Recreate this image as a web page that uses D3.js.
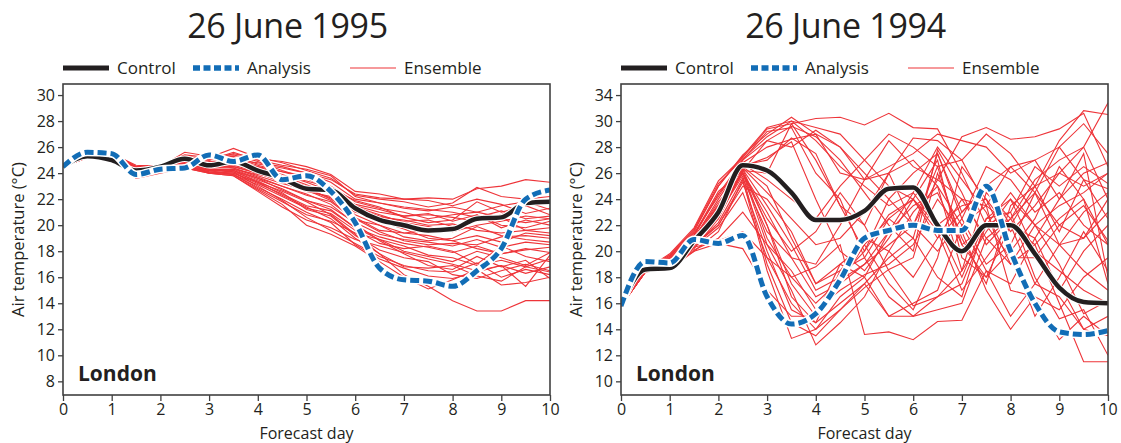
<!DOCTYPE html>
<html>
<head>
<meta charset="utf-8">
<script src="https://cdn.jsdelivr.net/npm/d3@7"></script>
<style>
  body { margin: 0; background: #fff; }
  text { font-family: "Open Sans", sans-serif; fill: #231f20; }
</style>
</head>
<body>
<svg id="chart" width="1121" height="443"></svg>
<script>
// forecast days (half-day steps)
const days = [0, 0.5, 1, 1.5, 2, 2.5, 3, 3.5, 4, 4.5, 5, 5.5, 6, 6.5, 7, 7.5, 8, 8.5, 9, 9.5, 10];

const titles = ['26 June 1995', '26 June 1994'];
const legendNames = ['Control', 'Analysis', 'Ensemble'];

// y ticks (the 1994 panel prints "34" on its top tick, as in the original)
const ticks1995 = [8, 10, 12, 14, 16, 18, 20, 22, 24, 26, 28, 30];
const tickLabels1995 = ['8', '10', '12', '14', '16', '18', '20', '22', '24', '26', '28', '30'];
const ticks1994 = [10, 12, 14, 16, 18, 20, 22, 24, 26, 28, 30, 32];
const tickLabels1994 = ['10', '12', '14', '16', '18', '20', '22', '24', '26', '28', '30', '34'];
const xTicks = [0, 1, 2, 3, 4, 5, 6, 7, 8, 9, 10];

// 26 June 1995
const control1995 = [24.5, 25.3, 25.0, 24.2, 24.5, 25.1, 24.6, 24.9, 24.2, 23.6, 22.8, 22.7, 21.3, 20.4, 20.0, 19.6, 19.7, 20.5, 20.6, 21.7, 21.8];
const analysis1995 = [24.5, 25.6, 25.5, 23.9, 24.3, 24.4, 25.4, 24.9, 25.4, 23.5, 23.8, 22.6, 20.2, 16.7, 15.8, 15.7, 15.3, 16.5, 18.2, 22.0, 22.7];
const ensemble1995 = [
  [24.5, 25.3, 25.6, 24.5, 24.5, 25.2, 25.0, 25.5, 25.1, 24.9, 24.5, 23.9, 22.6, 22.4, 22.0, 22.1, 22.0, 22.8, 23.0, 23.5, 23.3],
  [24.5, 25.3, 25.4, 24.4, 24.6, 25.4, 25.2, 25.9, 25.2, 24.8, 24.2, 23.6, 22.3, 22.0, 21.8, 21.4, 21.7, 22.9, 22.2, 22.0, 22.2],
  [24.5, 25.2, 25.3, 24.3, 24.4, 25.0, 24.8, 25.0, 24.8, 24.5, 24.0, 23.3, 22.0, 21.7, 21.3, 21.1, 21.4, 21.0, 21.5, 21.8, 21.2],
  [24.5, 25.3, 25.5, 24.6, 24.5, 25.6, 25.3, 25.4, 24.9, 24.2, 23.6, 22.8, 21.9, 21.4, 20.6, 20.2, 20.4, 21.8, 21.0, 21.5, 20.8],
  [24.5, 25.2, 25.2, 24.2, 24.3, 24.8, 24.6, 24.7, 24.5, 23.8, 23.4, 22.9, 21.4, 20.8, 20.2, 19.9, 19.5, 20.0, 20.3, 20.7, 20.5],
  [24.5, 25.2, 25.1, 24.3, 24.4, 24.6, 24.2, 24.3, 23.9, 23.6, 23.0, 22.5, 21.6, 21.2, 20.7, 20.9, 20.3, 20.8, 19.8, 20.4, 20.0],
  [24.5, 25.3, 25.4, 24.4, 24.5, 24.9, 24.4, 24.5, 24.0, 23.3, 22.6, 22.2, 21.0, 20.6, 20.4, 20.0, 20.1, 19.6, 19.4, 19.6, 19.8],
  [24.5, 25.2, 25.3, 24.5, 24.6, 25.1, 24.7, 24.4, 23.7, 23.0, 22.3, 21.8, 20.4, 20.0, 19.4, 19.2, 18.8, 19.2, 18.7, 19.4, 19.2],
  [24.5, 25.3, 25.5, 24.3, 24.4, 24.7, 24.3, 24.2, 23.5, 22.8, 21.9, 21.4, 20.2, 19.3, 18.9, 18.7, 18.4, 18.9, 18.3, 18.7, 18.5],
  [24.5, 25.2, 25.2, 24.2, 24.3, 24.5, 24.1, 24.0, 23.2, 22.4, 21.5, 21.1, 19.8, 19.1, 18.6, 18.3, 17.9, 18.4, 17.8, 18.2, 17.9],
  [24.5, 25.3, 25.4, 24.4, 24.5, 24.8, 24.2, 23.9, 22.8, 21.8, 20.8, 20.3, 19.4, 18.9, 18.4, 17.7, 17.5, 16.9, 17.3, 16.8, 17.4],
  [24.5, 25.2, 25.3, 24.3, 24.4, 24.6, 24.0, 23.8, 22.6, 21.4, 20.4, 19.8, 18.9, 18.4, 17.9, 17.4, 17.0, 16.5, 16.9, 16.3, 16.8],
  [24.5, 25.3, 25.5, 24.5, 24.5, 24.9, 24.3, 24.1, 23.0, 21.9, 20.6, 19.6, 18.6, 17.6, 16.9, 16.5, 16.4, 17.1, 16.0, 16.6, 16.2],
  [24.5, 25.2, 25.2, 24.2, 24.3, 24.4, 24.0, 23.9, 22.9, 22.0, 21.0, 20.2, 18.5, 17.4, 16.7, 16.1, 15.9, 16.4, 16.9, 15.3, 17.7],
  [24.5, 25.3, 25.4, 24.4, 24.4, 24.6, 24.1, 24.0, 23.3, 22.6, 21.8, 20.8, 19.3, 17.8, 16.2, 15.3, 14.2, 13.4, 13.4, 14.2, 14.2],
  [24.5, 25.2, 25.3, 24.3, 24.4, 24.7, 24.3, 24.2, 23.6, 23.0, 22.4, 21.6, 20.1, 18.8, 17.8, 16.9, 16.6, 17.6, 16.8, 17.3, 15.9],
  [24.5, 25.3, 25.4, 24.4, 24.5, 25.0, 24.6, 24.8, 24.3, 23.8, 23.1, 22.4, 21.2, 20.3, 19.7, 19.0, 18.8, 18.2, 17.8, 18.1, 18.3],
  [24.5, 25.2, 25.3, 24.5, 24.6, 25.2, 24.8, 25.2, 24.6, 24.1, 23.8, 23.0, 21.8, 21.3, 21.0, 20.5, 20.8, 21.0, 20.6, 19.6, 19.4],
  [24.5, 25.3, 25.5, 24.3, 24.4, 25.3, 25.0, 25.6, 25.0, 24.6, 24.3, 23.8, 22.2, 21.7, 21.4, 21.2, 21.0, 20.6, 21.1, 20.5, 20.7],
  [24.5, 25.2, 25.2, 24.4, 24.5, 24.7, 24.5, 24.6, 24.1, 23.5, 22.9, 22.0, 20.8, 20.0, 19.1, 18.8, 19.0, 19.9, 19.2, 18.9, 18.7],
  [24.5, 25.3, 25.4, 24.3, 24.4, 24.5, 24.2, 24.1, 23.4, 22.5, 21.2, 20.7, 19.2, 18.1, 17.5, 17.2, 16.2, 15.9, 16.5, 17.0, 16.5],
  [24.5, 25.2, 25.3, 23.6, 24.0, 24.4, 24.0, 23.8, 22.7, 21.6, 20.0, 19.3, 18.4, 17.2, 16.0, 15.1, 15.8, 16.6, 15.4, 15.6, 16.0],
  [24.5, 25.3, 25.4, 24.4, 24.5, 24.9, 24.4, 24.4, 23.8, 23.2, 22.7, 22.1, 20.6, 19.6, 19.4, 19.6, 19.7, 20.8, 20.0, 19.8, 20.3],
  [24.5, 25.2, 25.3, 24.4, 24.5, 25.1, 24.8, 25.1, 24.4, 23.9, 23.3, 22.6, 21.5, 21.0, 20.7, 20.8, 20.6, 20.3, 20.8, 21.8, 21.6],
  [24.5, 25.3, 25.4, 24.5, 24.6, 25.3, 25.1, 25.3, 24.7, 24.4, 24.0, 23.5, 22.4, 22.1, 22.0, 21.9, 21.5, 22.0, 21.6, 20.9, 21.3],
  [24.5, 25.2, 25.2, 24.3, 24.3, 24.4, 24.1, 23.9, 23.1, 22.2, 21.3, 20.9, 19.6, 18.6, 18.2, 18.4, 18.0, 17.0, 18.4, 17.6, 17.2],
  [24.5, 25.3, 25.4, 24.4, 24.4, 24.6, 24.2, 24.3, 23.6, 22.7, 21.9, 21.2, 19.8, 18.9, 18.0, 17.6, 17.2, 18.0, 17.5, 16.9, 17.9],
  [24.5, 25.2, 25.3, 24.3, 24.5, 24.8, 24.5, 24.5, 24.0, 23.4, 22.7, 21.9, 20.5, 19.5, 18.8, 18.5, 18.6, 18.5, 19.1, 19.2, 19.0],
  [24.5, 25.3, 25.5, 24.5, 24.6, 25.2, 24.9, 25.0, 24.5, 24.1, 23.6, 22.7, 21.3, 20.7, 20.3, 20.4, 19.9, 20.4, 20.5, 20.2, 20.5],
  [24.5, 25.2, 25.3, 24.4, 24.5, 24.8, 24.3, 24.2, 23.3, 22.3, 21.4, 20.5, 19.0, 17.8, 16.8, 16.7, 16.9, 16.1, 15.7, 16.8, 16.4]
];

// 26 June 1994
const control1994 = [15.8, 18.6, 18.7, 20.8, 23.0, 26.6, 26.2, 24.5, 22.4, 22.4, 23.1, 24.8, 24.9, 22.0, 20.0, 22.0, 22.0, 19.8, 17.2, 16.1, 16.0];
const analysis1994 = [15.8, 19.2, 19.1, 20.9, 20.6, 21.2, 16.5, 14.4, 15.2, 17.8, 21.0, 21.6, 22.0, 21.6, 21.6, 25.0, 20.0, 16.0, 13.8, 13.6, 13.9];
const ensemble1994 = [
  [15.8, 18.5, 19.6, 21.5, 25.0, 27.4, 29.0, 30.3, 29.0, 28.0, 26.0, 24.0, 22.0, 25.5, 24.0, 23.5, 22.0, 25.0, 28.5, 30.8, 30.5],
  [15.8, 18.6, 19.8, 21.8, 25.4, 27.2, 29.4, 29.8, 30.2, 30.3, 29.7, 30.6, 29.5, 29.4, 26.0, 22.0, 24.5, 22.0, 20.5, 21.0, 24.0],
  [15.8, 18.4, 19.4, 21.2, 24.4, 27.0, 28.5, 29.6, 28.8, 27.0, 24.5, 22.0, 20.0, 27.8, 24.5, 20.5, 22.5, 25.5, 27.0, 28.0, 31.4],
  [15.8, 18.5, 19.2, 21.0, 24.0, 26.8, 28.0, 28.6, 29.0, 26.0, 25.5, 28.5, 26.5, 25.5, 28.8, 29.5, 28.6, 28.8, 29.4, 30.6, 26.5],
  [15.8, 18.4, 19.0, 20.6, 23.5, 26.5, 27.2, 28.4, 24.0, 20.0, 18.5, 21.0, 24.0, 27.0, 19.5, 18.0, 22.0, 21.0, 17.0, 20.0, 22.0],
  [15.8, 18.6, 19.5, 21.3, 24.6, 26.2, 26.0, 29.8, 27.0, 23.5, 22.0, 26.0, 28.7, 28.5, 27.0, 23.5, 26.5, 27.0, 24.0, 26.0, 26.8],
  [15.8, 18.5, 19.3, 20.8, 23.2, 26.0, 23.0, 19.5, 16.5, 17.5, 19.0, 20.5, 22.0, 26.5, 20.5, 18.0, 20.0, 22.5, 26.5, 24.0, 17.5],
  [15.8, 18.4, 18.9, 20.2, 22.5, 26.3, 22.0, 16.5, 14.5, 16.0, 17.5, 19.5, 21.0, 27.5, 22.5, 19.0, 20.5, 24.5, 22.0, 23.5, 20.8],
  [15.8, 18.5, 19.1, 20.5, 22.8, 25.8, 19.0, 14.5, 13.5, 15.5, 17.2, 18.6, 19.5, 26.0, 21.0, 17.5, 23.5, 25.0, 21.5, 25.5, 24.8],
  [15.8, 18.6, 19.4, 21.0, 23.8, 26.0, 20.5, 17.0, 12.8, 14.5, 16.5, 20.0, 23.0, 25.0, 18.5, 21.5, 24.0, 20.0, 18.5, 17.0, 16.0],
  [15.8, 18.4, 18.6, 20.0, 21.5, 25.5, 18.5, 13.3, 14.0, 16.5, 18.0, 21.5, 24.5, 22.0, 18.0, 22.5, 23.0, 18.0, 14.8, 15.5, 12.0],
  [15.8, 18.5, 19.0, 20.4, 22.0, 25.0, 24.0, 21.5, 17.5, 18.5, 19.5, 22.5, 24.0, 21.5, 17.0, 19.5, 22.0, 20.5, 16.0, 11.5, 11.5],
  [15.8, 18.4, 18.7, 20.1, 21.0, 23.0, 20.5, 18.5, 15.5, 17.0, 18.2, 19.0, 20.5, 24.0, 21.5, 17.0, 14.0, 16.5, 13.2, 15.0, 13.5],
  [15.8, 18.5, 18.8, 20.3, 20.8, 21.5, 19.5, 18.0, 18.8, 20.5, 13.6, 13.8, 13.2, 14.6, 14.7, 18.5, 17.5, 21.0, 24.0, 27.5, 18.0],
  [15.8, 18.6, 19.2, 20.7, 22.5, 26.2, 28.5, 28.0, 29.3, 28.0, 25.5, 26.5, 27.5, 29.0, 28.5, 28.0, 26.0, 27.0, 28.0, 29.8, 27.5],
  [15.8, 18.5, 19.6, 21.4, 24.2, 27.0, 29.2, 29.5, 26.0, 24.0, 19.5, 16.5, 15.0, 15.5, 16.0, 21.0, 22.5, 24.5, 20.5, 18.5, 17.0],
  [15.8, 18.4, 19.3, 20.9, 23.5, 26.5, 25.0, 21.0, 17.5, 19.0, 18.0, 15.0, 15.0, 16.5, 17.5, 22.0, 23.0, 26.5, 25.0, 26.5, 25.2],
  [15.8, 18.5, 19.0, 20.4, 22.2, 25.6, 21.5, 19.5, 19.0, 22.0, 25.5, 26.0, 22.0, 20.0, 22.5, 26.5, 25.5, 23.0, 24.5, 22.0, 20.5],
  [15.8, 18.6, 19.7, 21.6, 25.0, 27.3, 29.5, 30.0, 28.5, 26.5, 25.0, 23.5, 24.5, 28.0, 25.5, 23.0, 19.0, 22.0, 23.5, 24.5, 26.0],
  [15.8, 18.4, 18.8, 20.0, 20.6, 20.2, 17.0, 15.0, 15.0, 17.5, 20.5, 22.5, 21.0, 18.0, 16.5, 22.5, 24.0, 22.0, 19.0, 15.2, 16.2],
  [15.8, 18.5, 19.2, 20.6, 23.0, 26.0, 22.5, 20.0, 21.5, 24.5, 22.0, 18.5, 15.8, 16.5, 18.5, 24.5, 22.5, 19.5, 17.5, 14.0, 15.0],
  [15.8, 18.5, 19.5, 21.2, 24.4, 26.6, 27.0, 28.7, 27.5, 23.5, 20.0, 24.0, 26.0, 27.5, 23.0, 25.0, 22.0, 17.5, 16.5, 14.0, 13.5],
  [15.8, 18.4, 19.1, 20.6, 22.6, 26.1, 21.0, 18.0, 16.0, 17.8, 19.0, 21.5, 23.5, 24.5, 20.5, 22.0, 19.5, 19.5, 22.0, 21.0, 23.0],
  [15.8, 18.6, 19.4, 21.1, 23.6, 26.4, 24.5, 22.5, 20.5, 21.0, 23.0, 26.0, 27.0, 25.0, 22.0, 18.5, 15.0, 17.5, 20.5, 23.0, 24.5],
  [15.8, 18.5, 19.0, 20.5, 22.0, 25.3, 20.0, 15.5, 14.5, 18.5, 21.0, 20.0, 18.0, 21.0, 24.0, 21.0, 19.0, 20.5, 22.5, 24.0, 20.5],
  [15.8, 18.4, 19.3, 21.0, 23.4, 26.7, 25.5, 24.0, 22.5, 25.0, 27.0, 29.0, 28.0, 26.5, 27.0, 29.0, 27.5, 25.0, 26.0, 25.0, 26.0],
  [15.8, 18.5, 19.1, 20.7, 22.9, 26.3, 23.5, 20.5, 17.0, 18.0, 20.0, 22.8, 24.0, 21.0, 23.0, 25.0, 26.5, 24.5, 28.0, 25.5, 22.5],
  [15.8, 18.6, 19.7, 21.7, 25.2, 27.1, 28.8, 30.0, 29.5, 29.0, 27.0, 25.0, 24.0, 22.0, 23.5, 24.0, 21.5, 23.5, 26.0, 28.0, 24.0],
  [15.8, 18.4, 18.9, 20.3, 21.8, 24.5, 19.5, 16.0, 14.0, 15.5, 17.5, 15.0, 16.0, 17.0, 22.0, 23.5, 17.0, 16.5, 15.5, 18.0, 19.5],
  [15.8, 18.5, 19.2, 20.8, 23.0, 26.0, 22.0, 17.5, 15.0, 19.0, 20.5, 17.5, 15.5, 19.5, 26.5, 24.0, 20.0, 15.0, 18.0, 21.5, 18.5]
];

const RED = '#ee3439';
const BLUE = '#126db6';
const BLACK = '#231f20';

const svg = d3.select('#chart');
const plotTop = 84;
const plotBottom = 395;
const plotWidth = 487;

function drawPanel(opts) {
  const g = svg.append('g').attr('transform', `translate(${opts.left},0)`);

  const xScale = d3.scaleLinear().domain([0, 10]).range([0, plotWidth]);
  const yScale = d3.scaleLinear().domain(opts.yDomain).range([plotBottom, plotTop]);

  // title
  g.append('text')
    .attr('x', plotWidth / 2 - 19)
    .attr('y', 38)
    .attr('text-anchor', 'middle')
    .attr('font-size', '34px')
    .attr('letter-spacing', '-0.3px')
    .text(opts.title);

  // legend
  const legend = g.append('g').attr('transform', 'translate(0,68)');
  const legendItems = [
    { x: 0, name: legendNames[0], stroke: BLACK, width: 5, dash: null },
    { x: 130, name: legendNames[1], stroke: BLUE, width: 5.5, dash: '7,3.5' },
    { x: 287, name: legendNames[2], stroke: RED, width: 1.2, dash: null },
  ];
  legendItems.forEach((it) => {
    legend.append('line')
      .attr('x1', it.x).attr('x2', it.x + 46)
      .attr('y1', 0).attr('y2', 0)
      .attr('stroke', it.stroke)
      .attr('stroke-width', it.width)
      .attr('stroke-dasharray', it.dash);
    legend.append('text')
      .attr('x', it.x + 54)
      .attr('y', 6)
      .attr('font-size', '17px')
      .text(it.name);
  });

  // clip
  g.append('clipPath').attr('id', `clip-${opts.id}`)
    .append('rect')
    .attr('x', 0).attr('y', plotTop)
    .attr('width', plotWidth).attr('height', plotBottom - plotTop);

  const plot = g.append('g').attr('clip-path', `url(#clip-${opts.id})`);

  const straight = d3.line()
    .x((d, i) => xScale(days[i]))
    .y((d) => yScale(d))
    .curve(d3.curveLinear);

  const smooth = d3.line()
    .x((d, i) => xScale(days[i]))
    .y((d) => yScale(d))
    .curve(d3.curveMonotoneX);

  plot.selectAll('path.member')
    .data(opts.ensemble)
    .enter()
    .append('path')
    .attr('class', 'member')
    .attr('d', (d) => straight(d))
    .attr('fill', 'none')
    .attr('stroke', RED)
    .attr('stroke-width', 1.1);

  // control with thin white halo
  plot.append('path')
    .attr('d', smooth(opts.control))
    .attr('fill', 'none')
    .attr('stroke', '#fff')
    .attr('stroke-width', 6.5);
  plot.append('path')
    .attr('d', smooth(opts.control))
    .attr('fill', 'none')
    .attr('stroke', BLACK)
    .attr('stroke-width', 4.5);

  // analysis: white halo under blue dashes
  plot.append('path')
    .attr('d', smooth(opts.analysis))
    .attr('fill', 'none')
    .attr('stroke', '#fff')
    .attr('stroke-width', 8);
  plot.append('path')
    .attr('d', smooth(opts.analysis))
    .attr('fill', 'none')
    .attr('stroke', BLUE)
    .attr('stroke-width', 5)
    .attr('stroke-dasharray', '9,4');

  // axes
  const yAxis = d3.axisLeft(yScale)
    .tickValues(opts.ticks)
    .tickFormat((d, i) => opts.tickLabels[i])
    .tickSize(5)
    .tickPadding(3);
  const yG = g.append('g').call(yAxis);
  yG.select('.domain').remove();
  yG.selectAll('line').attr('stroke', '#404040').attr('stroke-width', 1.3);
  yG.selectAll('text').attr('font-size', '16px').attr('font-family', '"Open Sans", sans-serif').attr('fill', BLACK);

  const xAxis = d3.axisBottom(xScale).tickValues(xTicks).tickSize(6).tickPadding(3);
  const xG = g.append('g').attr('transform', `translate(0,${plotBottom})`).call(xAxis);
  xG.select('.domain').remove();
  xG.selectAll('line').attr('stroke', '#404040').attr('stroke-width', 1.3);
  xG.selectAll('text').attr('font-size', '16px').attr('font-family', '"Open Sans", sans-serif').attr('fill', BLACK);

  // frame
  g.append('rect')
    .attr('x', 0).attr('y', plotTop)
    .attr('width', plotWidth).attr('height', plotBottom - plotTop)
    .attr('fill', 'none')
    .attr('stroke', '#404040')
    .attr('stroke-width', 1.6);

  // axis titles
  g.append('text')
    .attr('x', plotWidth / 2)
    .attr('y', 439)
    .attr('text-anchor', 'middle')
    .attr('font-size', '16px')
    .text('Forecast day');
  g.append('text')
    .attr('transform', `translate(-39,${(plotTop + plotBottom) / 2}) rotate(-90)`)
    .attr('text-anchor', 'middle')
    .attr('font-size', '16.5px')
    .text('Air temperature (°C)');

  // station label
  g.append('text')
    .attr('x', 15)
    .attr('y', 381)
    .attr('font-size', '21px')
    .attr('font-weight', 'bold')
    .text('London');
}

drawPanel({
  id: 'a', left: 63, title: titles[0], yDomain: [6.95, 30.85],
  ticks: ticks1995, tickLabels: tickLabels1995,
  control: control1995, analysis: analysis1995, ensemble: ensemble1995,
});

drawPanel({
  id: 'b', left: 621, title: titles[1], yDomain: [8.95, 32.85],
  ticks: ticks1994, tickLabels: tickLabels1994,
  control: control1994, analysis: analysis1994, ensemble: ensemble1994,
});
</script>
</body>
</html>
